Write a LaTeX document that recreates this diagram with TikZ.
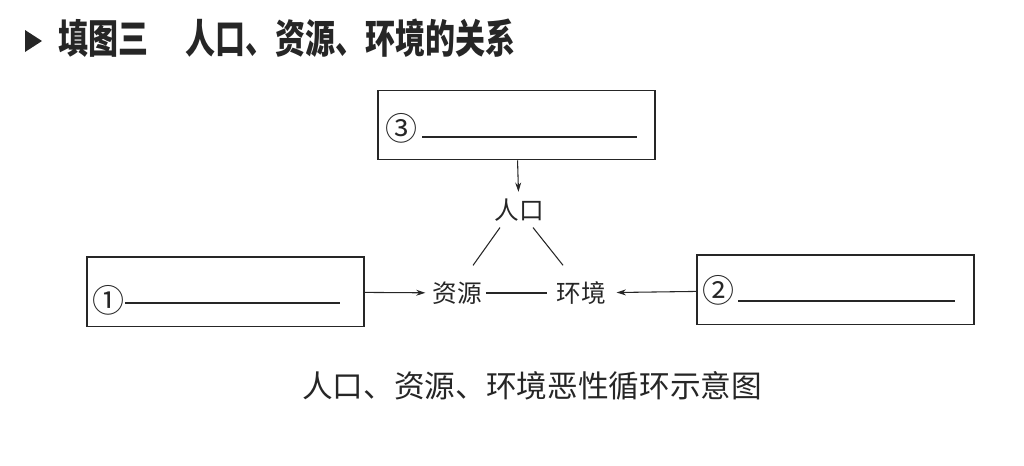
\documentclass[tikz,border=0pt]{standalone}
\usepackage{fontspec}
\setmainfont{Noto Sans CJK SC}
\newfontfamily\titlefont{Noto Sans CJK SC}[FakeStretch=0.75]
\usetikzlibrary{arrows.meta, calc}

\tikzset{
  fillbox/.style={draw, line width=1pt, minimum width=207.75pt, minimum height=52pt, inner sep=0pt},
  factor/.style={inner sep=0pt, font=\fontsize{18.5}{18.5}\selectfont},
  numlabel/.style={inner sep=0pt, font=\fontsize{24}{24}\selectfont},
  heading/.style={anchor=west, inner sep=0pt, font=\titlefont\fontsize{30}{30}\selectfont\bfseries},
  blank/.style={line width=0.8pt},
  link/.style={line width=0.8pt}
}

\begin{document}
\begin{tikzpicture}[x=0.75pt, y=-0.75pt, color=black!85, >={Stealth[length=7pt, width=4.5pt]}]
      \useasboundingbox (0,0) rectangle (1024,465);
      % title bar
      \fill (25,30) -- (42,41) -- (25,52) -- cycle;
      \node[heading] (title) at (58,38) {填图三};
      \node[heading] (subject) at (185,38) {人口、资源、环境的关系};
      % boxes to fill in
      \node[fillbox] (box3) at (516.5,125) {};
      \node[fillbox] (box1) at (225.5,291.5) {};
      \node[fillbox] (box2) at (835.5,289.5) {};
      \node[numlabel] (num3) at (401,128) {③};
      \node[numlabel] (num1) at (108,300) {①};
      \node[numlabel] (num2) at (718,290) {②};
      \coordinate (b3a) at (422,137); \coordinate (b3b) at (637,137);
      \coordinate (b1a) at (125,303); \coordinate (b1b) at (340,303);
      \coordinate (b2a) at (738,301); \coordinate (b2b) at (955,301);
      \draw[blank] (b3a) -- (b3b);
      \draw[blank] (b1a) -- (b1b);
      \draw[blank] (b2a) -- (b2b);
      % the three factors
      \node[factor] (renkou) at (519,210) {人口};
      \node[factor] (ziyuan) at (457,293) {资源};
      \node[factor] (huanjing) at (581,293) {环境};
      \draw[link, ->, shorten >=5pt] (box3) -- (renkou);
      \draw[link] ($(renkou.south)+(-19,6)$) -- ($(ziyuan.north)+(16,-16)$);
      \draw[link] ($(renkou.south)+(14,6)$) -- ($(huanjing.north)+(-18,-16)$);
      \draw[link, shorten <=3pt, shorten >=7pt] (ziyuan) -- (huanjing);
      \draw[link, ->, shorten >=5pt] (box1) -- (ziyuan);
      \draw[link, ->, shorten >=8pt] (box2) -- (huanjing);
      % caption
      \node[inner sep=0pt, font=\fontsize{23}{23}\selectfont] (caption) at (532,386) {人口、资源、环境恶性循环示意图};
    \end{tikzpicture}
\end{document}
